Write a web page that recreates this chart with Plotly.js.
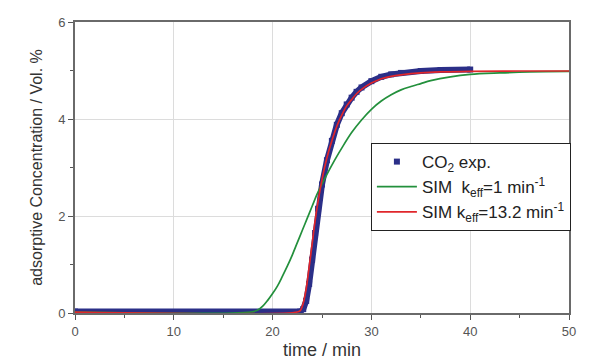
<!DOCTYPE html>
<html>
<head>
<meta charset="utf-8">
<script src="https://cdn.plot.ly/plotly-3.0.1.min.js"></script>
<style>html,body{margin:0;padding:0;background:#fff;}#chart{width:593px;height:364px;}</style>
</head>
<body>
<div id="chart"></div>
<script>
// Experimental CO2 breakthrough (time / min, concentration / Vol. %)
const expTime = [0, 22.8, 23.1, 23.4, 23.7, 24.0, 24.3, 24.6, 25.0, 25.5, 26, 26.5, 27, 27.5, 28, 28.5, 29, 30, 31, 32, 33, 35, 37, 40];
const expConc = [0.03, 0.03, 0.08, 0.25, 0.6, 1.1, 1.65, 2.15, 2.65, 3.15, 3.55, 3.88, 4.12, 4.3, 4.44, 4.56, 4.65, 4.78, 4.87, 4.92, 4.95, 4.99, 5.01, 5.02];

// Simulation k_eff = 1 min^-1
const sim1Time = [0, 17.8, 18.5, 19, 19.5, 20, 20.5, 21, 21.5, 22, 22.5, 23, 23.5, 24, 24.5, 25, 25.5, 26, 26.5, 27, 28, 29, 30, 31, 32, 33, 34, 35, 36, 38, 40, 43, 46, 50];
const sim1Conc = [0.02, 0.02, 0.06, 0.14, 0.26, 0.4, 0.56, 0.76, 0.97, 1.2, 1.45, 1.7, 1.95, 2.2, 2.45, 2.66, 2.86, 3.05, 3.23, 3.4, 3.72, 3.98, 4.2, 4.37, 4.5, 4.6, 4.67, 4.73, 4.79, 4.87, 4.92, 4.95, 4.97, 4.98];

// Simulation k_eff = 13.2 min^-1
const sim2Time = [0, 22.5, 22.8, 23.1, 23.4, 23.7, 24.0, 24.3, 24.6, 25.0, 25.5, 26, 26.5, 27, 27.5, 28, 28.5, 29, 30, 31, 32, 33, 35, 37, 40, 45, 50];
const sim2Conc = [0.02, 0.02, 0.05, 0.2, 0.5, 0.95, 1.42, 1.9, 2.3, 2.75, 3.2, 3.55, 3.85, 4.08, 4.27, 4.4, 4.52, 4.61, 4.74, 4.83, 4.88, 4.91, 4.95, 4.97, 4.98, 4.99, 4.99];

const legendNames = ["CO<sub>2</sub> exp.", "SIM  k<sub>eff</sub>=1 min<sup>-1</sup>", "SIM k<sub>eff</sub>=13.2 min<sup>-1</sup>"];
const xTicks = [0, 10, 20, 30, 40, 50];
const yTicks = [0, 2, 4, 6];

const blue = "#2b2f88", green = "#23903c", red = "#e0262b";
const fam = "Liberation Sans, Arial, sans-serif";

const traces = [
  {x: expTime, y: expConc, mode: "lines", line: {color: blue, width: 6}, showlegend: false, hoverinfo: "skip"},
  {x: expTime, y: expConc, mode: "markers", marker: {symbol: "square", size: 6, color: blue}, name: legendNames[0]},
  {x: sim1Time, y: sim1Conc, mode: "lines", line: {color: green, width: 1.7, shape: "spline"}, name: legendNames[1]},
  {x: sim2Time, y: sim2Conc, mode: "lines", line: {color: red, width: 1.7, shape: "spline"}, name: legendNames[2]}
];

const axisCommon = {
  showline: true, linecolor: "#6a6a6a", linewidth: 2, mirror: true,
  showgrid: true, gridcolor: "#dcdcdc", gridwidth: 1, zeroline: false,
  ticks: "outside", ticklen: 5, tickwidth: 1, tickcolor: "#555",
  tickfont: {family: fam, size: 13, color: "#555"},
  minor: {ticks: "outside", ticklen: 3, tickcolor: "#555", showgrid: false}
};

const layout = {
  width: 593, height: 364,
  margin: {l: 75, r: 24, t: 22, b: 51},
  paper_bgcolor: "#ffffff", plot_bgcolor: "#ffffff",
  font: {family: fam, color: "#333"},
  xaxis: Object.assign({}, axisCommon, {
    range: [0, 50], tickvals: xTicks, ticktext: xTicks.map(String),
    minor: Object.assign({}, axisCommon.minor, {dtick: 5, tick0: 0}),
    title: {text: "time / min", font: {family: fam, size: 18, color: "#333"}, standoff: 6}
  }),
  yaxis: Object.assign({}, axisCommon, {
    range: [0, 6], tickvals: yTicks, ticktext: yTicks.map(String),
    minor: Object.assign({}, axisCommon.minor, {dtick: 1, tick0: 0}),
    title: {text: "adsorptive Concentration / Vol. %", font: {family: fam, size: 16, color: "#333"}, standoff: 12}
  }),
  legend: {
    x: 0.599, y: 0.584, xanchor: "left", yanchor: "top",
    bgcolor: "#ffffff", bordercolor: "#222", borderwidth: 1,
    font: {family: fam, size: 17, color: "#222"},
    tracegroupgap: 0, itemwidth: 40
  },
  showlegend: true
};

Plotly.newPlot("chart", traces, layout, {displayModeBar: false, staticPlot: true});
</script>
</body>
</html>
